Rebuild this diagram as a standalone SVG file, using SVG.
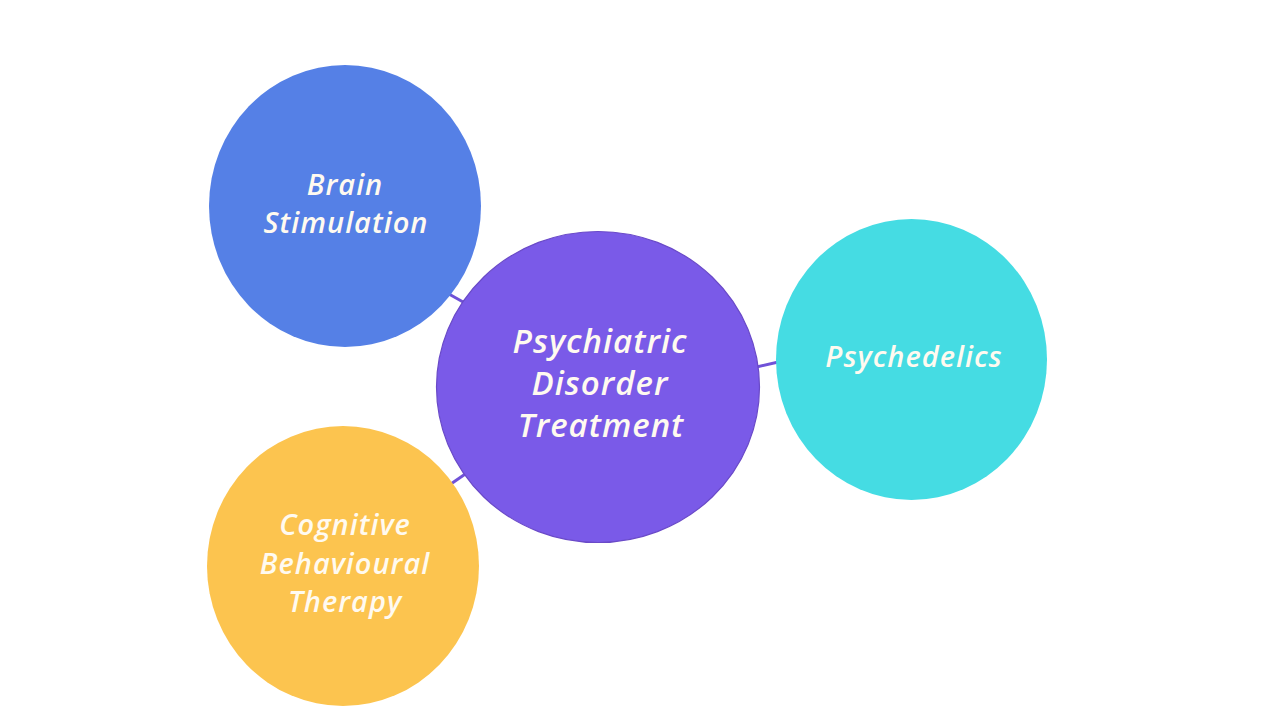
<svg xmlns="http://www.w3.org/2000/svg" width="1280" height="720" viewBox="0 0 1280 720">
  <style>
    .lbl { font-family: "Open Sans", "DejaVu Sans", sans-serif; font-style: italic; font-weight: 600; fill: #fffaf0; text-anchor: middle; letter-spacing: 1px; }
    .sm { font-size: 29px; }
    .lg { font-size: 33px; }
    .conn { stroke: #7052d8; stroke-width: 3; fill: none; }
  </style>
  <rect width="1280" height="720" fill="#ffffff"/>
  <g id="connectors">
    <line class="conn" x1="440" y1="289" x2="472" y2="307"/>
    <line class="conn" x1="445" y1="488" x2="474" y2="468"/>
    <line class="conn" x1="750" y1="368.5" x2="785" y2="360.5"/>
  </g>
  <g id="node-brain">
    <ellipse cx="345" cy="206" rx="136" ry="141" fill="#5580e6"/>
    <text class="lbl sm" x="345" y="195">Brain</text>
    <text class="lbl sm" x="346" y="233">Stimulation</text>
  </g>
  <g id="node-cbt">
    <ellipse cx="343" cy="566" rx="136" ry="140" fill="#fcc44f"/>
    <text class="lbl sm" x="345" y="535">Cognitive</text>
    <text class="lbl sm" x="345" y="574">Behavioural</text>
    <text class="lbl sm" x="345" y="612">Therapy</text>
  </g>
  <g id="node-psychedelics">
    <ellipse cx="911.5" cy="359.5" rx="135.5" ry="140.5" fill="#45dce3"/>
    <text class="lbl sm" x="914" y="367">Psychedelics</text>
  </g>
  <g id="node-center">
    <ellipse cx="598" cy="387" rx="161.5" ry="155.5" fill="#7a5ae8" stroke="#6a4ac8" stroke-width="1.2"/>
    <text class="lbl lg" x="600" y="353">Psychiatric</text>
    <text class="lbl lg" x="600" y="395">Disorder</text>
    <text class="lbl lg" x="601" y="437">Treatment</text>
  </g>
</svg>
